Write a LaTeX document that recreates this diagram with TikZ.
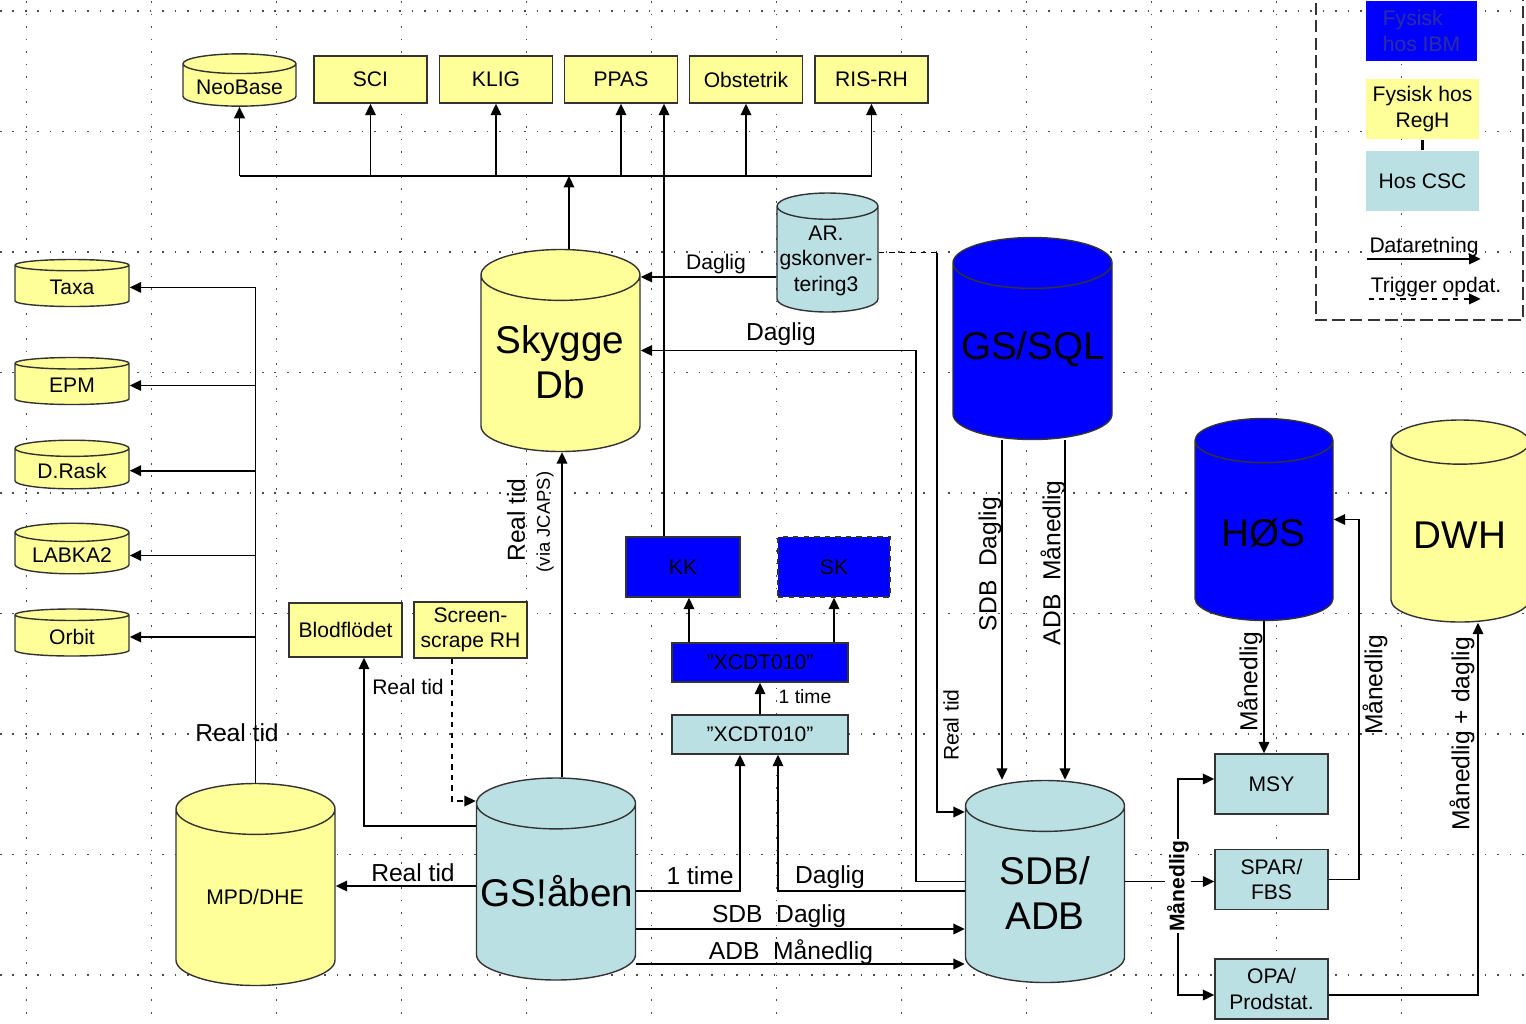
\documentclass[tikz,border=0pt]{standalone}
\usepackage{fontspec}
\setmainfont{Liberation Sans}
\usetikzlibrary{positioning,shapes.geometric,arrows.meta}

\definecolor{regh}{RGB}{255,255,153}
\definecolor{csc}{RGB}{187,224,227}
\definecolor{ibm}{RGB}{0,0,255}
\definecolor{ibmtext}{RGB}{45,45,160}

\tikzstyle{box} = [rectangle, draw=black!80, line width=0.8pt, align=center, font=\fontsize{12}{14.5}\selectfont]
\tikzstyle{yellowbox} = [box, fill=regh, minimum width=2.26cm, minimum height=0.94cm]
\tikzstyle{cscbox} = [box, fill=csc, minimum width=2.26cm, minimum height=1.2cm]
\tikzstyle{ibmbox} = [box, fill=ibm, minimum width=2.26cm, minimum height=1.2cm]
\tikzstyle{db} = [cylinder, shape border rotate=90, draw=black!80, line width=0.8pt, align=center, anchor=shape center, font=\fontsize{12}{14.5}\selectfont]
\tikzstyle{smalldb} = [db, fill=regh, minimum width=2.28cm, minimum height=0.94cm, aspect=0.2]
\tikzstyle{bigdb} = [db, minimum width=3.18cm, minimum height=4.04cm, inner xsep=1.59cm, inner ysep=0pt, aspect=0.32]
\tikzstyle{dbtext} = [align=center, inner sep=0pt, font=\fontsize{22}{25.5}\selectfont]
\tikzstyle{line} = [line width=1pt]
\tikzstyle{arrow} = [line width=1pt, -{Triangle[length=6.5pt,width=6pt]}]
\tikzstyle{lbl} = [inner sep=1pt, font=\fontsize{14}{16}\selectfont]
\tikzstyle{smalllbl} = [inner sep=1pt, font=\fontsize{12}{14}\selectfont]
\tikzstyle{gridline} = [line width=0.9pt, dash pattern=on 0.9pt off 6.2pt, black!70]
\tikzstyle{legendframe} = [line width=0.9pt, dash pattern=on 7pt off 3pt, black!80]

\begin{document}
\begin{tikzpicture}
\useasboundingbox (0,0) rectangle (30.52,-20.46);
% grid
\begin{scope}[shift={(0.53,-0.22)}]
\draw [gridline, xstep=2.5, ystep=2.41] (-0.53,-20.3) grid (30.0,0.22);
\end{scope}
%
% top row
\node (neobase) at (4.79,-1.60) [smalldb, minimum width=2.26cm, minimum height=0.92cm] {NeoBase};
\node (sci) at (7.41,-1.59) [yellowbox] {SCI};
\node (klig) at (9.92,-1.59) [yellowbox] {KLIG};
\node (ppas) at (12.42,-1.59) [yellowbox] {PPAS};
\node (obstetrik) at (14.92,-1.59) [yellowbox] {Obstetrik};
\node (risrh) at (17.43,-1.59) [yellowbox] {RIS-RH};
%
% left column
\node (taxa) at (1.44,-5.66) [smalldb] {Taxa};
\node (epm) at (1.44,-7.62) [smalldb] {EPM};
\node (drask) at (1.44,-9.29) [smalldb] {D.Rask};
\node (labka) at (1.44,-10.97) [smalldb] {LABKA2};
\node (orbit) at (1.44,-12.65) [smalldb] {Orbit};
%
% databases
\node (skygge) at (11.21,-7.01) [bigdb, fill=regh] {};
\node (skyggetxt) at (11.2,-7.25) [dbtext] {Skygge\\Db};
\node (gssql) at (20.65,-6.77) [bigdb, fill=ibm] {};
\node (gssqltxt) at (20.66,-6.98) [dbtext] {GS/SQL};
\node (mpd) at (5.11,-17.69) [bigdb, fill=regh] {};
\node (mpdtxt) at (5.1,-17.94) [dbtext, font=\fontsize{12}{14.5}\selectfont] {MPD/DHE};
\node (gsaaben) at (11.12,-17.58) [bigdb, fill=csc] {};
\node (gsaabentxt) at (11.14,-17.82) [dbtext] {GS!åben};
\node (sdb) at (20.9,-17.63) [bigdb, fill=csc] {};
\node (sdbtxt) at (20.9,-17.86) [dbtext] {SDB/\\ADB};
\node (hos) at (25.28,-10.39) [bigdb, fill=ibm, minimum width=2.76cm, inner xsep=1.38cm] {};
\node (hostxt) at (25.26,-10.66) [dbtext] {HØS};
\node (dwh) at (29.2,-10.42) [bigdb, fill=regh, minimum width=2.76cm, inner xsep=1.38cm] {};
\node (dwhtxt) at (29.2,-10.7) [dbtext] {DWH};
\node (ar) at (16.55,-5.05) [db, fill=csc, minimum width=2.02cm, minimum height=2.38cm, inner xsep=1.01cm, inner ysep=0pt, aspect=0.26] {};
\node (artxt) at (16.52,-5.21) [dbtext, font=\fontsize{12}{14.5}\selectfont] {AR.\\gskonver-\\tering3};
%
% boxes
\node (blod) at (6.91,-12.60) [yellowbox, minimum height=1.08cm] {Blodflödet};
\node (screen) at (9.41,-12.60) [yellowbox, minimum height=1.08cm] {Screen-\\scrape RH};
\node (kk) at (13.66,-11.34) [ibmbox, minimum width=2.28cm] {KK};
\node (sk) at (16.68,-11.34) [ibmbox, minimum width=2.24cm, dashed] {SK};
\node (xcdtb) at (15.2,-13.25) [ibmbox, minimum width=3.52cm, minimum height=0.78cm] {”XCDT010”};
\node (xcdtc) at (15.2,-14.69) [cscbox, minimum width=3.52cm, minimum height=0.78cm] {”XCDT010”};
\node (msy) at (25.43,-15.68) [cscbox] {MSY};
\node (spar) at (25.43,-17.59) [cscbox] {SPAR/\\FBS};
\node (opa) at (25.43,-19.78) [cscbox] {OPA/\\Prodstat.};
%
% legend
\draw [legendframe] (26.32,0.3) rectangle (30.46,-6.40);
\node (legibm) at (28.43,-0.62) [ibmbox, draw=none, minimum width=2.22cm, align=left, text=ibmtext] {Fysisk\\hos IBM};
\node (legregh) at (28.45,-2.18) [yellowbox, draw=none, minimum height=1.2cm] {Fysisk hos\\RegH};
\node (legcsc) at (28.45,-3.62) [cscbox, draw=none] {Hos CSC};
\draw [line width=1.5pt] (legregh.south) -- (legcsc.north);
\node (legdata) at (28.48,-4.94) [smalllbl] {Dataretning};
\node (legtrig) at (28.72,-5.74) [smalllbl] {Trigger opdat.};
\draw [arrow] (legdata.south west) -- (legdata.south east);
\draw [arrow, dashed] (legtrig.south west) -- (legtrig.south west -| legdata.south east);
%
% labels
\node (lblreal1) at (4.74,-14.66) [lbl] {Real tid};
\node (lblreal2) at (8.26,-17.46) [lbl] {Real tid};
\node (lblreal3) at (8.16,-13.74) [smalllbl] {Real tid};
\node (lblreal4) at (10.32,-10.40) [lbl, rotate=90] {Real tid};
\node (lbljcaps) at (10.90,-10.44) [inner sep=1pt, rotate=90, font=\fontsize{10.5}{12}\selectfont] {(via JCAPS)};
\node (lbldaglig1) at (14.32,-5.28) [smalllbl] {Daglig};
\node (lbldaglig2) at (15.62,-6.68) [lbl] {Daglig};
\node (lbltime1) at (14.0,-17.52) [lbl] {1 time};
\node (lbldaglig3) at (16.6,-17.54) [lbl] {Daglig};
\node (lbltime2) at (16.1,-13.94) [inner sep=1pt, font=\fontsize{11}{13}\selectfont] {1 time};
\node (lblsdb) at (15.58,-18.32) [lbl] {SDB\ \ Daglig};
\node (lbladb) at (15.82,-19.04) [lbl] {ADB\ \ Månedlig};
\node (lblreal5) at (19.02,-14.5) [smalllbl, rotate=90] {Real tid};
\node (lblsdbv) at (19.8,-11.28) [lbl, rotate=90] {SDB\ \ Daglig};
\node (lbladbv) at (21.06,-11.26) [lbl, rotate=90] {ADB\ \ Månedlig};
\node (lblmaned1) at (25.0,-13.64) [lbl, rotate=90] {Månedlig};
\node (lblmaned3) at (27.5,-13.7) [lbl, rotate=90] {Månedlig};
\node (lblmandag) at (29.24,-14.68) [lbl, rotate=90] {Månedlig + daglig};
%
% arrows
\coordinate (hub) at (11.38,-3.52);
\draw [arrow] (skygge.north -| hub) -- (hub);
\draw [line] (neobase.south |- hub) -- (risrh.south |- hub);
\draw [arrow] (neobase.south |- hub) -- (neobase.south);
\draw [arrow] (sci.south |- hub) -- (sci.south);
\draw [arrow] (klig.south |- hub) -- (klig.south);
\draw [arrow] (ppas.south |- hub) -- (ppas.south);
\draw [arrow] (obstetrik.south |- hub) -- (obstetrik.south);
\draw [arrow] (risrh.south |- hub) -- (risrh.south);
\draw [arrow] ([xshift=-0.38cm]kk.north) -- ([xshift=-0.38cm]kk.north |- ppas.south);
%
\draw [line] (mpd.north) -- (mpd.north |- taxa.east);
\draw [arrow] (mpd.north |- taxa.east) -- (taxa.east);
\draw [arrow] (mpd.north |- epm.east) -- (epm.east);
\draw [arrow] (mpd.north |- drask.east) -- (drask.east);
\draw [arrow] (mpd.north |- labka.east) -- (labka.east);
\draw [arrow] (mpd.north |- orbit.east) -- (orbit.east);
%
\draw [arrow] ([yshift=-0.14cm]gsaaben.shape center -| gsaaben.west) -- ([yshift=-0.14cm]gsaaben.shape center -| mpd.east);
\draw [arrow] ([yshift=1.06cm]gsaaben.shape center -| gsaaben.west) -| ([xshift=0.37cm]blod.south);
\draw [arrow, dashed] ([xshift=-0.37cm]screen.south) |- ([yshift=1.56cm]gsaaben.shape center -| gsaaben.west);
\draw [arrow] ([xshift=0.12cm]gsaaben.north) -- ([xshift=0.12cm]gsaaben.north |- skygge.south);
%
\draw [arrow] ([yshift=-0.49cm]ar.shape center -| ar.west) -- ([yshift=-0.49cm]ar.shape center -| skygge.east);
\coordinate (arturn) at (18.74,0);
\draw [line, dashed] (ar.shape center -| ar.east) -- (ar.shape center -| arturn);
\draw [arrow] (ar.shape center -| arturn) |- ([yshift=1.39cm]sdb.shape center -| sdb.west);
\draw [arrow] (sdb.shape center -| sdb.west) -- ++(-0.98,0) |- (skygge.shape center -| skygge.east);
%
\draw [arrow] ([xshift=-0.61cm]gssql.south) -- ([xshift=-0.61cm]gssql.south |- sdb.north);
\draw [arrow] ([xshift=0.65cm]gssql.south) -- ([xshift=0.65cm]gssql.south |- sdb.north);
%
\draw [arrow] ([yshift=-0.24cm]gsaaben.shape center -| gsaaben.east) -| ([xshift=-0.4cm]xcdtc.south);
\draw [arrow] ([yshift=-0.19cm]sdb.shape center -| sdb.west) -| ([xshift=0.36cm]xcdtc.south);
\draw [arrow] (xcdtc.north) -- (xcdtb.south);
\draw [arrow] ([xshift=0.12cm]kk.south |- xcdtb.north) -- ([xshift=0.12cm]kk.south);
\draw [arrow] (sk.south |- xcdtb.north) -- (sk.south);
\draw [arrow] ([yshift=-1cm]gsaaben.shape center -| gsaaben.east) -- ([yshift=-1cm]gsaaben.shape center -| sdb.west);
\draw [arrow] ([yshift=-1.7cm]gsaaben.shape center -| gsaaben.east) -- ([yshift=-1.7cm]gsaaben.shape center -| sdb.west);
%
\draw [arrow] (hos.south) -- (hos.south |- msy.north);
\coordinate (split) at (23.56,0);
\draw [arrow] (sdb.shape center -| sdb.east) -- (sdb.shape center -| spar.west);
\draw [arrow] (sdb.shape center -| split) |- ([yshift=0.1cm]msy.west);
\draw [arrow] (sdb.shape center -| split) |- ([yshift=-0.12cm]opa.west);
\draw [arrow] (spar.east) -- ++(0.6,0) |- (hos.shape center -| hos.east);
\draw [arrow] ([yshift=-0.12cm]opa.east) -| ([xshift=0.36cm]dwh.south);
\node (lblmaned2) at (23.56,-17.72) [inner sep=1pt, fill=white, rotate=90, font=\fontsize{12}{14}\selectfont\bfseries] {Månedlig};

\end{tikzpicture}
\end{document}
